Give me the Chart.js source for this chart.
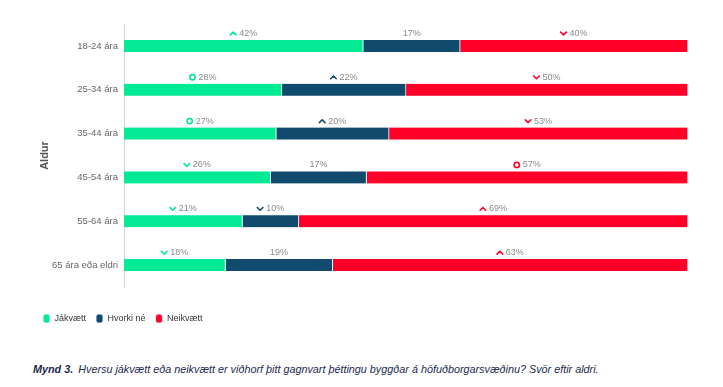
<!DOCTYPE html>
<html>
<head>
<meta charset="utf-8">
<script src="https://cdn.jsdelivr.net/npm/chart.js@4/dist/chart.umd.min.js"></script>
<style>
    html, body { margin: 0; padding: 0; background: #fff; }
    #wrap { position: relative; width: 723px; height: 387px; }
    #chart { position: absolute; left: 0; top: 0; }
    .caption {
        position: absolute; left: 33px; top: 363px;
        font-family: 'Liberation Sans', Arial, sans-serif;
        font-size: 10.8px; font-style: italic; color: #1c2a4d;
        white-space: nowrap;
    }
    .caption b { margin-right: 2px; }
</style>
</head>
<body>
<div id="wrap">
    <canvas id="chart" width="723" height="340"></canvas>
    <div class="caption"><b>Mynd 3.</b> Hversu jákvætt eða neikvætt er viðhorf þitt gagnvart þéttingu byggðar á höfuðborgarsvæðinu? Svör eftir aldri.</div>
</div>
<script>
    // Aldurshópar
    const categories = ['18-24 ára', '25-34 ára', '35-44 ára', '45-54 ára', '55-64 ára', '65 ára eða eldri'];

    // Hlutföll (%) eins og þau standa á myndinni
    const jakvaett = [42, 28, 27, 26, 21, 18];
    const hvorki = [17, 22, 20, 17, 10, 19];
    const neikvaett = [40, 50, 53, 57, 69, 63];

    // Tákn við hverja tölu: 'up', 'down', 'same' eða '' (ekkert)
    const jakvaettTrend = ['up', 'same', 'same', 'down', 'down', 'down'];
    const hvorkiTrend = ['', 'up', 'up', '', 'down', ''];
    const neikvaettTrend = ['down', 'down', 'down', 'same', 'up', 'up'];

    const seriesNames = ['Jákvætt', 'Hvorki né', 'Neikvætt'];
    const colors = ['#02ea93', '#104a6d', '#ff0029'];

    const rawValues = [jakvaett, hvorki, neikvaett];
    const trends = [jakvaettTrend, hvorkiTrend, neikvaettTrend];

    // Súlurnar fylla 100% breidd (18-24 ára summast í 99)
    const rowTotals = categories.map((c, i) => jakvaett[i] + hvorki[i] + neikvaett[i]);
    const share = arr => arr.map((v, i) => v / rowTotals[i] * 100);

    const FONT = "'Liberation Sans', Arial, sans-serif";

    function drawIcon(ctx, type, x, y, color) {
        ctx.save();
        ctx.strokeStyle = color;
        ctx.lineWidth = 1.6;
        ctx.lineCap = 'round';
        ctx.lineJoin = 'round';
        ctx.beginPath();
        if (type === 'up') {
            ctx.moveTo(x - 2.8, y + 1.5);
            ctx.lineTo(x, y - 1.3);
            ctx.lineTo(x + 2.8, y + 1.5);
        } else if (type === 'down') {
            ctx.moveTo(x - 2.8, y - 1.3);
            ctx.lineTo(x, y + 1.5);
            ctx.lineTo(x + 2.8, y - 1.3);
        } else if (type === 'same') {
            ctx.arc(x, y, 2.6, 0, Math.PI * 2);
        }
        ctx.stroke();
        ctx.restore();
    }

    // Tölur og tákn fyrir ofan hvern hluta súlunnar
    const segmentLabels = {
        id: 'segmentLabels',
        afterDatasetsDraw(chart) {
            const ctx = chart.ctx;
            ctx.save();
            ctx.font = '9px ' + FONT;
            ctx.textBaseline = 'middle';
            ctx.textAlign = 'left';
            chart.data.datasets.forEach((ds, di) => {
                chart.getDatasetMeta(di).data.forEach((bar, i) => {
                    const p = bar.getProps(['x', 'y', 'base', 'height'], true);
                    const cx = (p.x + p.base) / 2;
                    const ty = p.y - p.height / 2 - 6.5;
                    const text = rawValues[di][i] + '%';
                    const tw = ctx.measureText(text).width;
                    const trend = trends[di][i];
                    const iconW = trend ? 9 : 0;
                    const startX = cx - (tw + iconW) / 2;
                    if (trend) drawIcon(ctx, trend, startX + 3, ty, colors[di]);
                    ctx.fillStyle = '#8a8a8a';
                    ctx.fillText(text, startX + iconW, ty);
                });
            });
            ctx.restore();
        }
    };

    const ctx = document.getElementById('chart').getContext('2d');
    new Chart(ctx, {
        type: 'bar',
        data: {
            labels: categories,
            datasets: rawValues.map((vals, di) => ({
                label: seriesNames[di],
                data: share(vals),
                backgroundColor: colors[di],
                borderColor: '#ffffff',
                borderWidth: { top: 0, bottom: 0, left: 0, right: 1 },
                borderSkipped: false,
                barThickness: 12
            }))
        },
        options: {
            indexAxis: 'y',
            responsive: false,
            animation: false,
            layout: { padding: { left: 33, right: 35, top: 24, bottom: 7 } },
            scales: {
                x: {
                    stacked: true,
                    min: 0,
                    max: 100,
                    grid: { display: false },
                    ticks: { display: false },
                    border: { display: false },
                    afterFit: s => { s.height = 17; }
                },
                y: {
                    stacked: true,
                    grid: { display: false, drawTicks: false },
                    border: { display: true, color: '#d4d4d4', dash: [1.5, 2.5], width: 1 },
                    ticks: { color: '#666', font: { family: FONT, size: 9.5 }, padding: 6 },
                    title: {
                        display: true,
                        text: 'Aldur',
                        color: '#555',
                        font: { family: FONT, size: 11, weight: 'bold' },
                        padding: { top: 5, bottom: 0 }
                    },
                    afterFit: s => { s.width = 91; }
                }
            },
            plugins: {
                legend: {
                    position: 'bottom',
                    align: 'start',
                    labels: {
                        usePointStyle: true,
                        pointStyle: 'rectRounded',
                        pointStyleWidth: 7,
                        boxHeight: 7,
                        padding: 10,
                        color: '#333',
                        font: { family: FONT, size: 9 }
                    }
                },
                tooltip: { enabled: false }
            }
        },
        plugins: [segmentLabels]
    });
</script>
</body>
</html>
